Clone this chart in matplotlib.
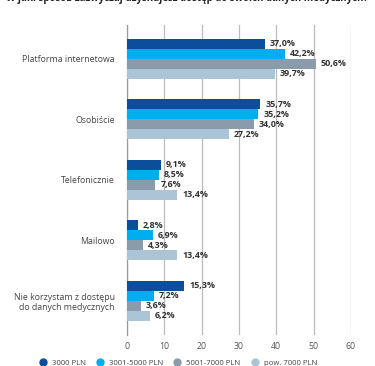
import matplotlib
matplotlib.use("Agg")
import matplotlib.pyplot as plt
import numpy as np
from matplotlib.lines import Line2D

plt.rcParams["font.family"] = ["Open Sans", "DejaVu Sans"]

TITLE = "W jaki sposób zazwyczaj uzyskujesz dostęp do swoich danych medycznych?"
categories = [
    "Platforma internetowa",
    "Osobiście",
    "Telefonicznie",
    "Mailowo",
    "Nie korzystam z dostępu\ndo danych medycznych",
]
series = ["3000 PLN", "3001-5000 PLN", "5001-7000 PLN", "pow. 7000 PLN"]
values = [
    [37.0, 35.7, 9.1, 2.8, 15.3],
    [42.2, 35.2, 8.5, 6.9, 7.2],
    [50.6, 34.0, 7.6, 4.3, 3.6],
    [39.7, 27.2, 13.4, 13.4, 6.2],
]
colors = ["#0b4f9c", "#00aeef", "#8a9bab", "#abc5d6"]

fig = plt.figure(figsize=(3.75, 3.66), dpi=100)
ax = fig.add_axes([0.339, 0.085, 0.597, 0.847])

h = 0.165
y = np.arange(len(categories))
for i, (name, vals) in enumerate(zip(series, values)):
    pos = y - 1.5 * h + i * h
    ax.barh(pos, vals, height=h, color=colors[i], zorder=3)
    for p, v in zip(pos, vals):
        ax.text(v + 1.3, p, f"{v:.1f}%".replace(".", ","), va="center", ha="left",
                fontsize=6.4, fontweight="bold", color="#333333", zorder=4)

ax.set_xlim(0, 60)
ax.set_ylim(len(categories) - 0.44, -0.56)
ax.set_xticks(range(0, 61, 10))
ax.set_yticks(y)
ax.set_yticklabels(categories, fontsize=6.3, color="#444444")
ax.tick_params(axis="y", length=0, pad=9)
ax.tick_params(axis="x", length=0, pad=5, labelsize=6.3, labelcolor="#555555")
ax.grid(axis="x", color="#bbbbbb", linewidth=0.9, zorder=0)
for s in ["top", "right", "bottom"]:
    ax.spines[s].set_visible(False)
ax.spines["left"].set_color("#999999")
ax.spines["left"].set_linewidth(0.9)

fig.text(0.5, 1.004, TITLE, ha="center", va="center", fontsize=7,
         fontweight="bold", color="#222222")

handles = [Line2D([], [], marker="o", linestyle="", markersize=5,
                  markerfacecolor=c, markeredgecolor=c) for c in colors]
fig.legend(handles, series, loc="center", bbox_to_anchor=(0.47, 0.008), ncol=4,
           frameon=False, fontsize=5.6, handletextpad=0.15, columnspacing=0.8,
           labelcolor="#444444")

fig.savefig("out.png", dpi=100)
